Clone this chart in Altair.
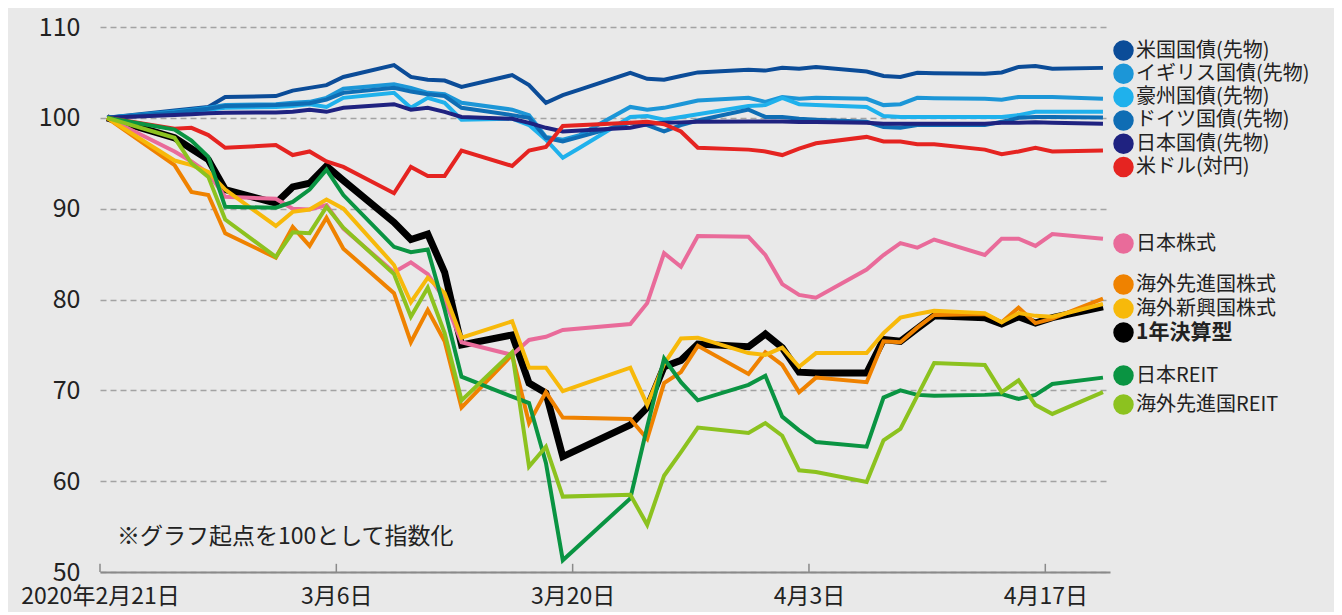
import altair as alt
import pandas as pd

FONT = "Noto Sans CJK JP"

DATES = [
    "2020-02-21", "2020-02-25", "2020-02-26", "2020-02-27", "2020-02-28",
    "2020-03-02", "2020-03-03", "2020-03-04", "2020-03-05", "2020-03-06",
    "2020-03-09", "2020-03-10", "2020-03-11", "2020-03-12", "2020-03-13",
    "2020-03-16", "2020-03-17", "2020-03-18", "2020-03-19", "2020-03-20",
    "2020-03-23", "2020-03-24", "2020-03-25", "2020-03-26", "2020-03-27",
    "2020-03-30", "2020-03-31", "2020-04-01", "2020-04-02", "2020-04-03",
    "2020-04-06", "2020-04-07", "2020-04-08", "2020-04-09", "2020-04-10",
    "2020-04-13", "2020-04-14", "2020-04-15", "2020-04-16", "2020-04-17",
    "2020-04-20",
]

US_BOND = [100, 100.8, 101.0, 101.2, 102.3, 102.4, 103.0, 103.3, 103.6, 104.5,
           105.8, 104.5, 104.2, 104.1, 103.4, 104.7, 103.6, 101.65, 102.5, 103.1,
           104.95, 104.3, 104.2, 104.6, 105.0, 105.3, 105.2, 105.5, 105.4, 105.6,
           105.1, 104.6, 104.5, 104.95, 104.9, 104.85, 105.0, 105.6, 105.7, 105.4,
           105.5]
UK_BOND = [100, 100.7, 100.9, 101.1, 101.4, 101.5, 101.65, 101.76, 102.2, 103.2,
           103.7, 103.3, 102.75, 102.6, 101.65, 100.9, 100.3, 97.9, 97.6, 98.1,
           101.2, 100.9, 101.1, 101.5, 101.9, 102.2, 101.76, 102.3, 102.1, 102.2,
           102.1, 101.4, 101.5, 102.2, 102.15, 102.1, 102.0, 102.3, 102.3, 102.3,
           102.1]
AU_BOND = [100, 100.55, 100.7, 100.9, 101.1, 101.2, 101.3, 101.5, 101.2, 102.2,
           102.75, 101.1, 102.2, 101.65, 99.8, 99.9, 99.2, 97.6, 95.6, 96.7,
           100.1, 100.2, 99.8, 100.1, 100.4, 101.3, 101.4, 102.2, 101.5, 101.4,
           101.2, 100.2, 100.1, 100.1, 100.1, 100.1, 100.1, 100.3, 100.66, 100.66,
           100.66]
DE_BOND = [100, 100.6, 100.8, 101.0, 101.3, 101.4, 101.5, 101.6, 102.0, 102.75,
           103.3, 102.9, 102.6, 102.4, 101.1, 100.3, 100.0, 97.8, 97.4, 97.9,
           99.45, 99.2, 98.5, 99.2, 99.7, 100.9, 100.1, 100.1, 99.9, 99.8,
           99.56, 99.0, 98.9, 99.2, 99.2, 99.2, 99.56, 100.0, 100.1, 100.1,
           100.05]
JP_BOND = [100, 100.3, 100.4, 100.5, 100.55, 100.6, 100.66, 100.9, 100.66, 101.1,
           101.5, 100.9, 101.1, 100.66, 100.1, 99.9, 99.45, 98.9, 98.5, None,
           98.9, 99.3, 99.45, 99.5, 99.56, 99.6, 99.6, 99.6, 99.55, 99.55,
           99.45, 99.35, 99.35, 99.35, 99.35, 99.35, 99.45, 99.45, 99.5, 99.45,
           99.35]
USD = [100, 98.8, 98.9, 98.1, 96.7, 97.0, 95.9, 96.3, 95.2, 94.6,
       91.7, 94.6, 93.6, 93.6, 96.4, 94.7, 96.4, 96.8, 99.1, None,
       99.45, 99.56, 99.3, 98.5, 96.7, 96.5, 96.3, 95.9, 96.6, 97.2,
       97.9, 97.4, 97.4, 97.1, 97.1, 96.5, 96.0, 96.3, 96.7, 96.3,
       96.4]
JP_EQ = [100, 96.3, 95.2, 93.9, 91.3, 91.1, 90.0, 89.9, 90.4, 87.8,
         83.0, 84.1, 82.8, 80.0, 75.3, 73.9, 75.55, 75.9, 76.65, None,
         77.3, 79.6, 85.1, 83.6, 87.0, 86.9, 84.9, 81.7, 80.5, 80.2,
         83.3, 84.9, 86.2, 85.7, 86.6, 84.9, 86.7, 86.7, 85.9, 87.2,
         86.7]
DEV_EQ = [100, 94.8, 91.85, 91.5, 87.3, 84.6, 88.0, 85.9, 89.0, 85.6,
          80.7, 75.3, 78.85, 75.4, 68.1, 73.9, 66.4, 69.8, 67.0, None,
          66.85, 64.65, 70.8, 72.0, 74.9, 71.8, 74.2, 72.8, 69.8, 71.4,
          70.9, 75.4, 75.3, 76.9, 78.3, 78.4, 77.5, 79.1, 77.4, 77.9,
          80.1]
EM_EQ = [100, 95.3, 94.8, 94.05, 92.1, 88.1, 89.65, 89.9, 91.0, 90.0,
         83.8, 79.7, 82.4, 80.7, 75.8, 77.6, 72.5, 72.5, 69.9, None,
         72.5, 68.4, 72.9, 75.7, 75.8, 74.1, 73.9, 74.7, 72.6, 74.1,
         74.1, 76.3, 78.0, 78.4, 78.75, 78.5, 77.5, 78.5, 78.2, 78.1,
         79.5]
FUND = [100, 97.8, 96.6, 95.4, 92.1, 90.6, 92.4, 92.8, 94.7, 93.1,
        88.5, 86.6, 87.2, 83.0, 75.0, 76.1, 70.8, 69.7, 62.7, None,
        66.2, 68.1, 72.6, 73.3, 75.1, 74.8, 76.2, 74.7, 72.0, 71.9,
        71.9, 75.6, 75.4, 76.8, 78.2, 78.0, 77.3, 78.1, 77.4, 78.0,
        79.2]
JP_REIT = [100, 98.7, 97.5, 95.7, 90.2, 90.1, 90.75, 92.1, 94.3, 91.5,
           85.8, 85.2, 85.5, 78.9, 71.5, 69.3, 68.6, 62.0, 51.3, None,
           58.1, 66.0, 73.5, 70.9, 68.9, 70.6, 71.6, 67.1, 65.6, 64.3,
           63.8, 69.2, 70.0, 69.5, 69.4, 69.5, 69.6, 69.05, 69.5, 70.7,
           71.4]
DEV_REIT = [100, 97.8, 95.0, 93.5, 88.8, 84.7, 87.4, 87.3, 90.2, 87.9,
            82.8, 78.1, 81.3, 76.3, 68.9, 74.2, 61.6, 63.8, 58.3, None,
            58.5, 55.2, 60.6, 63.2, 65.9, 65.3, 66.4, 65.0, 61.2, 61.0,
            59.9, 64.5, 65.75, 69.4, 73.0, 72.8, 69.8, 71.1, 68.4, 67.4,
            69.8]

SERIES = ["米国国債(先物)", "イギリス国債(先物)", "豪州国債(先物)", "ドイツ国債(先物)",
          "日本国債(先物)", "米ドル(対円)", "日本株式", "海外先進国株式",
          "海外新興国株式", "1年決算型", "日本REIT", "海外先進国REIT"]
VALUES = [US_BOND, UK_BOND, AU_BOND, DE_BOND, JP_BOND, USD, JP_EQ, DEV_EQ,
          EM_EQ, FUND, JP_REIT, DEV_REIT]
COLORS = ["#0b4c98", "#1c96d7", "#1fb1ec", "#0f6db4", "#1f2280", "#e52421",
          "#e96b9a", "#ef8200", "#f7b90a", "#000000", "#0a9442", "#8cc21f"]

TICK_DATES = ["2020-02-21", "2020-03-06", "2020-03-20", "2020-04-03", "2020-04-17"]
Y_TICKS = [50, 60, 70, 80, 90, 100, 110]
NOTE = "※グラフ起点を100として指数化"

rows = []
for name, vals in zip(SERIES, VALUES):
    for d, v in zip(DATES, vals):
        if v is not None:
            rows.append({"date": d + "T10:00:00", "series": name, "value": v})
df = pd.DataFrame(rows)
ticks_df = pd.DataFrame({"date": [d + "T00:00:00" for d in TICK_DATES]})

def dt(s):
    y, m, d = (int(p) for p in s.split("-"))
    return alt.DateTime(year=y, month=m, date=d)

x_scale = alt.Scale(domain=[dt("2020-02-21"),
                            alt.DateTime(year=2020, month=4, date=20, hours=20)])
y_scale = alt.Scale(domain=[50, 110], nice=False, zero=False)

x_axis = alt.Axis(
    values=[dt(d) for d in TICK_DATES], title=None, ticks=False, grid=False,
    domainColor="#8a8a8a", domainWidth=2,
    labelExpr="(datum.index == 0 ? year(datum.value) + '年' : '') + (month(datum.value) + 1) + '月' + date(datum.value) + '日'",
    labelFont=FONT, labelFontSize=23, labelColor="#222222", labelPadding=13,
    labelFlush=False, labelOverlap=False,
)
y_axis = alt.Axis(
    values=Y_TICKS, title=None, ticks=False, domain=False, grid=True,
    gridDash=[6, 4], gridColor="#a3a3a3", gridWidth=1.3,
    labelFont=FONT, labelFontSize=25, labelColor="#222222", labelPadding=20,
)

base = alt.Chart(df).encode(
    x=alt.X("date:T", scale=x_scale, axis=x_axis),
    y=alt.Y("value:Q", scale=y_scale, axis=y_axis),
)

fund_line = base.transform_filter(alt.datum.series == "1年決算型").mark_line(
    color="#000000", strokeWidth=7)

colored = base.transform_filter(alt.datum.series != "1年決算型").mark_line(
    strokeWidth=4).encode(
    color=alt.Color("series:N",
                    scale=alt.Scale(domain=SERIES, range=COLORS),
                    legend=None))

tick_marks = alt.Chart(ticks_df).mark_rule(color="#8a8a8a", strokeWidth=1.5).encode(
    x="date:T", y=alt.datum(50), y2=alt.datum(50.9))

note = alt.Chart(pd.DataFrame({"t": [NOTE]})).mark_text(
    align="left", baseline="middle", font=FONT, fontSize=23, color="#222222"
).encode(
    text="t:N",
    x=alt.XDatum(dt("2020-02-22"), type="temporal"),
    y=alt.datum(53.9),
)

LEGEND_GROUPS = [
    (SERIES[0:6], 13, 2.3, "normal", 20),
    (SERIES[6:7], 206, 2, "normal", 20),
    (SERIES[7:9], 247, 3, "normal", 20),
    (SERIES[9:10], 295, 2, "bold", 21),
    (SERIES[10:12], 338, 8, "normal", 20),
]

legend_layers = []
for names, ly, rp, fw, fs in LEGEND_GROUPS:
    cols = [COLORS[SERIES.index(n)] for n in names]
    legend_layers.append(
        alt.Chart(df).transform_filter("false").mark_circle(size=420, opacity=1).encode(
            x="date:T", y="value:Q",
            color=alt.Color("series:N",
                            scale=alt.Scale(domain=names, range=cols),
                            legend=alt.Legend(
                                orient="none", legendX=1013, legendY=ly,
                                title=None, symbolType="circle", symbolSize=420,
                                symbolStrokeWidth=0, symbolOpacity=1,
                                labelFont=FONT, labelFontSize=fs,
                                labelFontWeight=fw, labelColor="#222222",
                                labelLimit=400, labelOffset=2, rowPadding=rp,
                                padding=0, direction="vertical")))
    )

chart = alt.layer(fund_line, colored, tick_marks, note, *legend_layers).resolve_scale(
    color="independent").resolve_legend(color="independent").properties(
    width=1010, height=545, background="#e9e9e9",
    padding={"left": 92, "top": 19, "right": 224, "bottom": 40},
    autosize=alt.AutoSizeParams(type="none"),
).configure_view(stroke=None)

chart.save("out.html", embed_options={"renderer": "svg", "actions": False})
